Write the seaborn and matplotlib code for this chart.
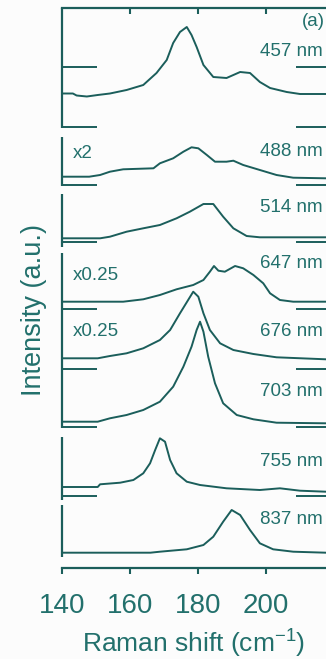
import matplotlib
matplotlib.use("Agg")
import matplotlib.pyplot as plt
import numpy as np
import pandas as pd
import seaborn as sns

# ---------------- data ----------------
shift_457 = [140, 143.2, 144.3, 147.3, 150.5, 154.1, 159.0, 163.9, 167.8, 170.8, 172.7, 174.7,
             176.7, 178.1, 179.6, 181.6, 184.5, 188.4, 192.4, 195.3, 198.2, 201.2, 206.1, 210.0, 217.6]
int_457 = [0.5, 0.5, -1.5, -2.5, -1, 0.5, 4, 9, 21, 34, 51, 62, 67, 59, 47, 29, 17, 16, 22, 21,
           12, 6, 2, 0, 0]

shift_488 = [140, 148, 151.2, 154.1, 158.0, 166.9, 168.8, 172.7, 175.7, 178.1, 180.1, 182.6,
             185.0, 188.4, 190.4, 193.3, 198.2, 203.1, 208.0, 217.6]
int_488 = [0.3, 0.3, 2, 5.3, 7.7, 8.7, 13.7, 18.7, 25.3, 29.7, 28.7, 22, 15.3, 15.3, 16.3, 12,
           7, 2, -0.7, -1.3]

shift_514 = [140, 151.2, 154.1, 159.0, 163.9, 168.8, 173.7, 177.6, 181.6, 184.5, 187.4, 190.4,
             194.3, 198.2, 217.6]
int_514 = [-0.3, -0.3, 1.3, 6.3, 9.7, 13, 19.7, 26.3, 34, 34, 21.3, 9.7, 2, 0.7, 0.7]

shift_647 = [140, 158, 163.9, 168.8, 173.7, 178.6, 181.6, 183.5, 184.7, 186.0, 187.9, 190.9,
             193.3, 196.3, 199.2, 201.2, 204.1, 208.0, 217.6]
int_647 = [0, 0, 2.4, 6.7, 12.4, 16.7, 21.7, 30, 35.7, 31, 30, 35.7, 33.4, 26.7, 18.4, 8.4,
           1.7, 0, 0]

shift_676 = [140, 150.5, 154.1, 159.0, 163.9, 168.8, 171.8, 174.7, 177.1, 178.6, 180.1, 181.6,
             183.5, 186.5, 190.4, 196.3, 203.1, 217.6]
int_676 = [0, 0, 2.3, 5, 10, 18.3, 28.3, 45, 58.3, 66.6, 61.6, 45, 28.3, 15, 8.3, 4.3, 1, -1]

shift_703 = [140, 150.5, 154.1, 159.0, 163.9, 168.8, 172.7, 175.7, 178.1, 179.6, 180.6, 181.6,
             183.0, 185.0, 187.4, 191.4, 196.3, 203.1, 217.6]
int_703 = [0.3, 0.3, 3.7, 7, 12, 20.3, 35.3, 55.3, 75.3, 92, 100.3, 90.3, 65.3, 38.7, 18.7, 7,
           2.7, -0.7, -1.3]

shift_755 = [140, 150.5, 151.2, 157.1, 161.0, 163.9, 165.9, 167.4, 168.8, 170.3, 171.8, 173.7,
             176.7, 180.6, 188.4, 198.2, 204.1, 210.0, 217.6]
int_755 = [0, 0, 2.7, 4.3, 7, 13.7, 23.7, 37, 48.7, 45.3, 27, 13.7, 5.3, 2, -1.3, -3, -1.3,
           -3.7, -4.7]

shift_837 = [140, 166, 168.8, 176.7, 181.6, 184.5, 187.4, 189.9, 192.4, 195.3, 198.2, 202.1,
             208.0, 217.6]
int_837 = [0, 0, 1, 3.4, 7.7, 16, 31, 42.7, 37.7, 22.7, 9.4, 3.4, 1, 0]

wavelengths = ["457 nm", "488 nm", "514 nm", "647 nm", "676 nm", "703 nm", "755 nm", "837 nm"]
scale_labels = ["", "x2", "", "x0.25", "x0.25", "", "", ""]
x_ticks = [140, 160, 180, 200]

# ---------------- layout (vertical offsets of the stacked traces) ----------------
spectra = [(shift_457, int_457), (shift_488, int_488), (shift_514, int_514),
           (shift_647, int_647), (shift_676, int_676), (shift_703, int_703),
           (shift_755, int_755), (shift_837, int_837)]
offsets = [474, 391, 330, 266.3, 209.7, 146, 81, 15.3]
label_y = [516, 417, 361, 304, 236, 176, 106, 49]
scale_y = [None, 415, None, 292, 236, None, None, None]
marks_y = [501, 441, 383, 326, 258.7, 198.7, 141.3, 72.3]
spine_segments = [(440, 560), (382, 431), (321, 374), (140, 315), (68, 131), (11, 63)]

line_c = "#1b5e5b"
text_c = "#22706c"

sns.set_theme(style="ticks")
plt.rcParams["font.family"] = ["Liberation Sans", "DejaVu Sans"]
plt.rcParams["mathtext.default"] = "regular"

fig = plt.figure(figsize=(3.26, 6.59), dpi=100)
fig.patch.set_facecolor("#fcfcfc")
ax = fig.add_axes([62 / 326, (659 - 568) / 659, (326 - 62) / 326, (568 - 8) / 659])
ax.set_facecolor("#fcfcfc")

frames = []
for (xs, ys), off, name in zip(spectra, offsets, wavelengths):
    frames.append(pd.DataFrame({"shift": xs, "y": np.asarray(ys) + off, "laser": name}))
df = pd.concat(frames, ignore_index=True)

for name in wavelengths:
    sub = df[df["laser"] == name]
    sns.lineplot(data=sub, x="shift", y="y", ax=ax, color=line_c, lw=1.4,
                 estimator=None, sort=False, legend=False)

xmin, xmax = 140, 217.65
ax.set_xlim(xmin, xmax)
ax.set_ylim(0, 560)

# short level marks at both ends
for my in marks_y:
    ax.hlines(my, xmin, 150.3, color=line_c, lw=1.4)
    ax.hlines(my, 208.8, xmax, color=line_c, lw=1.4, clip_on=False)

# broken left axis
for y0, y1 in spine_segments:
    ax.vlines(xmin, y0, y1, color=line_c, lw=1.6, clip_on=False)

for name, ly in zip(wavelengths, label_y):
    ax.text(216.8, ly, name, ha="right", va="center", color=text_c, fontsize=13.5)
for s, sy in zip(scale_labels, scale_y):
    if s:
        ax.text(143.2, sy, s, ha="left", va="center", color=text_c, fontsize=13.5)
ax.text(217.3, 547, "(a)", ha="right", va="center", color=text_c, fontsize=13.5)

for side in ["left", "right"]:
    ax.spines[side].set_visible(False)
ax.spines["bottom"].set_color(line_c)
ax.spines["bottom"].set_linewidth(1.6)
ax.spines["top"].set_visible(False)

ax.set_yticks([])
ax.set_xticks(x_ticks)
ax.set_xticklabels([str(t) for t in x_ticks])
ax.tick_params(axis="x", direction="out", length=4, width=1.5, color=line_c,
               labelsize=20, labelcolor=text_c, pad=14)

top = ax.secondary_xaxis("top")
top.set_xticks(x_ticks[1:])
top.tick_params(axis="x", direction="in", length=4, width=1.5, color=line_c, labeltop=False)
top.spines["top"].set_color(line_c)
top.spines["top"].set_linewidth(1.6)

ax.set_xlabel(r"Raman shift (cm$^{-1}$)", fontsize=19, color=text_c, labelpad=6)
ax.set_ylabel("")
fig.text(34 / 326, 1 - 310 / 659, "Intensity (a.u.)", rotation=90, ha="center", va="center",
         fontsize=19.5, color=text_c)

fig.savefig("out.png", dpi=100, facecolor=fig.get_facecolor())
